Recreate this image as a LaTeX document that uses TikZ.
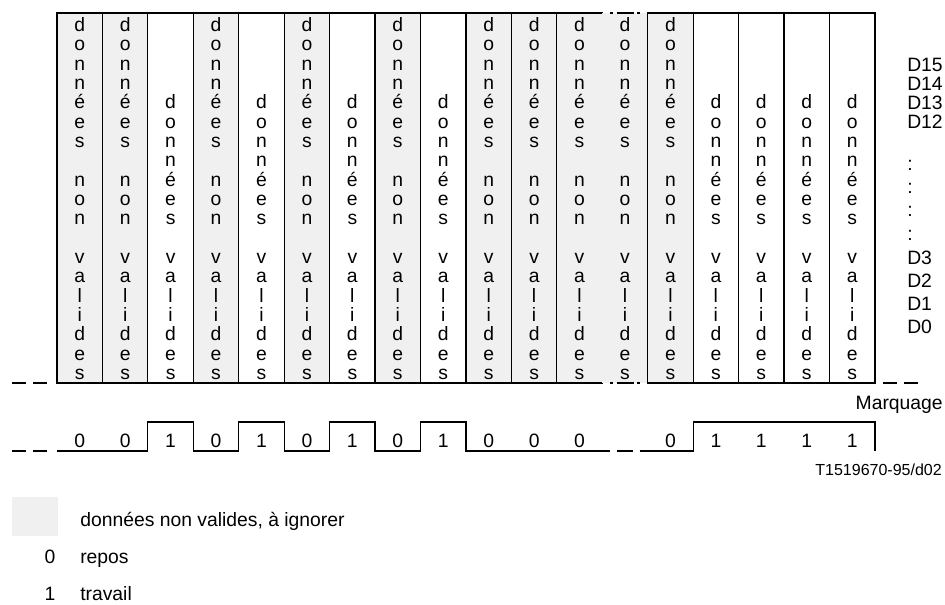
\documentclass[tikz,border=0pt]{standalone}
\usepackage{fontspec}
\setmainfont{Liberation Sans}
\usetikzlibrary{positioning,calc}
\definecolor{grisclair}{RGB}{240,240,240}
\newlength{\rowgap}
\setlength{\rowgap}{14.5pt}
\newcommand{\txtnonval}{d\\o\\n\\n\\é\\e\\s\\[\rowgap]n\\o\\n\\[\rowgap]v\\a\\l\\i\\d\\e\\s}
\newcommand{\txtval}{d\\o\\n\\n\\é\\e\\s\\[\rowgap]v\\a\\l\\i\\d\\e\\s}

\begin{document}
\begin{tikzpicture}[
    x=0.75pt, y=-0.75pt,
    node distance=0pt,
    font=\fontsize{14.5}{14.5}\selectfont,
    col/.style={rectangle, minimum width=34.08pt, minimum height=277.5pt, inner sep=0pt, outer sep=0pt, line width=0.9pt},
    lettres/.style={anchor=south, inner sep=0pt, yshift=2.3pt, align=center},
    invalide/.style={col, draw, fill=grisclair, label={[lettres]south:\txtnonval}},
    valide/.style={col, draw, label={[lettres]south:\txtval}},
    coupure/.style={col, fill=grisclair, label={[lettres]south:\txtnonval}},
    signal/.style={line width=0.9pt},
    tirets/.style={line width=0.9pt, dash pattern=on 10.5pt off 5.25pt},
    trou/.style={line width=0.9pt, dash pattern=on 2.25pt off 3pt on 12.75pt off 2.25pt on 2.25pt},
    bit/.style={anchor=base, inner sep=0pt},
    texte/.style={anchor=base west, inner sep=0pt}
]
    \useasboundingbox (0,0) rectangle (945,604);

    % Trames de donnees
    \node[invalide] (c1) at (79.72,198) {};
    \node[invalide, right=of c1] (c2) {};
    \node[valide, right=of c2] (c3) {};
    \node[invalide, right=of c3] (c4) {};
    \node[valide, right=of c4] (c5) {};
    \node[invalide, right=of c5] (c6) {};
    \node[valide, right=of c6] (c7) {};
    \node[invalide, right=of c7] (c8) {};
    \node[valide, right=of c8] (c9) {};
    \node[invalide, right=of c9] (c10) {};
    \node[invalide, right=of c10] (c11) {};
    \node[invalide, right=of c11] (c12) {};
    \node[coupure, right=of c12] (c13) {};
    \node[invalide, right=of c13] (c14) {};
    \node[valide, right=of c14] (c15) {};
    \node[valide, right=of c15] (c16) {};
    \node[valide, right=of c16] (c17) {};
    \node[valide, right=of c17] (c18) {};

    \draw[trou] ($(c13.north west)+(8,0)$) -- ($(c13.north east)+(-8,0)$);
    \draw[trou] ($(c13.south west)+(8,0)$) -- ($(c13.south east)+(-8,0)$);
    \draw[tirets] ($(c1.south west)+(-45,0)$) -- ++(37,0);
    \draw[tirets] ($(c18.south east)+(8,0)$) -- ++(37,0);

    % Bits D15 ... D0
    \node[texte] (d15) at (907,71.5) {D15};
    \node[texte] (d14) at (907,90.5) {D14};
    \node[texte] (d13) at (907,109.5) {D13};
    \node[texte] (d12) at (907,128.5) {D12};
    \node[texte] (p1) at (907,170) {:};
    \node[texte] (p2) at (907,193) {:};
    \node[texte] (p3) at (907,216.5) {:};
    \node[texte] (p4) at (907,240) {:};
    \node[texte] (d3) at (907,264.5) {D3};
    \node[texte] (d2) at (907,287.5) {D2};
    \node[texte] (d1) at (907,310.5) {D1};
    \node[texte] (d0) at (907,333.5) {D0};

    % Marquage
    \coordinate (bas) at (0,451);
    \coordinate (haut) at (0,422);
    \coordinate (chiffres) at (0,447.5);
    \node[anchor=base east, inner sep=0pt] (marq) at (943,409) {Marquage};

    \draw[signal] (c1.south west |- bas) -- (c3.south west |- bas)
        |- (c4.south west |- haut) |- (c5.south west |- bas)
        |- (c6.south west |- haut) |- (c7.south west |- bas)
        |- (c8.south west |- haut) |- (c9.south west |- bas)
        |- (c10.south west |- haut) |- (c13.south west |- bas) -- ++(8,0);
    \draw[signal] ($(c13.south west |- bas)+(15,0)$) -- ($(c13.south east |- bas)+(-15,0)$);
    \draw[signal] ($(c14.south west |- bas)+(-8,0)$) -- (c15.south west |- bas)
        |- (c18.south east |- haut) -- (c18.south east |- bas);
    \draw[tirets] ($(c1.south west |- bas)+(-45,0)$) -- ++(37,0);

    \node[bit] (m1) at (c1 |- chiffres) {0};
    \node[bit] (m2) at (c2 |- chiffres) {0};
    \node[bit] (m3) at (c3 |- chiffres) {1};
    \node[bit] (m4) at (c4 |- chiffres) {0};
    \node[bit] (m5) at (c5 |- chiffres) {1};
    \node[bit] (m6) at (c6 |- chiffres) {0};
    \node[bit] (m7) at (c7 |- chiffres) {1};
    \node[bit] (m8) at (c8 |- chiffres) {0};
    \node[bit] (m9) at (c9 |- chiffres) {1};
    \node[bit] (m10) at (c10 |- chiffres) {0};
    \node[bit] (m11) at (c11 |- chiffres) {0};
    \node[bit] (m12) at (c12 |- chiffres) {0};
    \node[bit] (m14) at (c14 |- chiffres) {0};
    \node[bit] (m15) at (c15 |- chiffres) {1};
    \node[bit] (m16) at (c16 |- chiffres) {1};
    \node[bit] (m17) at (c17 |- chiffres) {1};
    \node[bit] (m18) at (c18 |- chiffres) {1};

    \node[anchor=base east, inner sep=0pt, font=\fontsize{12}{14}\selectfont] (refnum) at (942,475) {T1519670-95/d02};

    % Legende
    \node[fill=grisclair, minimum width=34.5pt, minimum height=29.25pt, inner sep=0pt] (leggris) at (35,516.5) {};
    \node[texte] (legtxt) at (80,526) {données non valides, à ignorer};
    \node[bit] (leg0) at (50,563) {0};
    \node[texte] (repos) at (80,563) {repos};
    \node[bit] (leg1) at (50,600) {1};
    \node[texte] (travail) at (80,600) {travail};
\end{tikzpicture}
\end{document}
